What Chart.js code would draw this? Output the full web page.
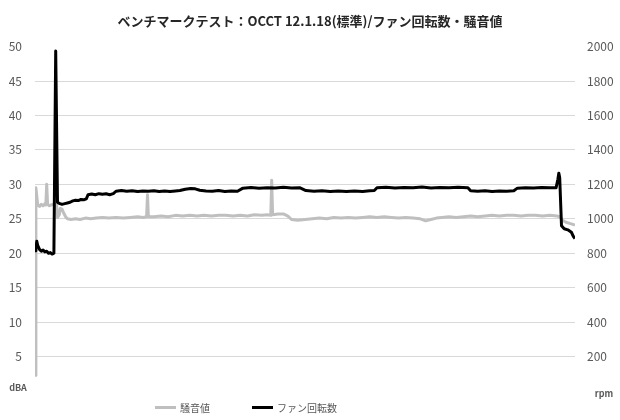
<!DOCTYPE html>
<html>
<head>
<meta charset="utf-8">
<script src="https://cdn.jsdelivr.net/npm/chart.js@4.4.0/dist/chart.umd.min.js"></script>
<style>
  html, body { margin: 0; padding: 0; background: #fff; }
  #wrap { position: relative; width: 620px; height: 420px; }
  #legend {
    position: absolute; left: 155px; top: 400px;
    display: flex; align-items: center;
    font-family: 'Noto Sans CJK JP', 'Noto Sans', sans-serif;
    font-size: 10px; color: #595959;
  }
  #legend .item { display: flex; align-items: center; margin-right: 42px; }
  #legend .swatch { width: 21px; height: 3px; margin-right: 4px; }
</style>
</head>
<body>
<div id="wrap">
  <canvas id="benchChart" width="620" height="420"></canvas>
  <div id="legend"></div>
</div>
<script>
// elapsed time (s) and fan speed (rpm)
const fanTime = [0, 1, 2, 3, 5, 7, 9, 11, 13, 15, 17, 19, 21, 23, 25, 27, 30, 33, 36, 39, 42, 45, 48, 51, 54, 57, 59, 63, 67, 71, 75, 79, 83, 87, 90, 96, 102, 108, 114, 120, 126, 132, 138, 144, 150, 156, 161, 167, 173, 178, 183, 190, 197, 204, 211, 218, 225, 231, 240, 249, 258, 267, 276, 285, 294, 301, 310, 319, 328, 337, 346, 355, 364, 372, 377, 380, 390, 400, 410, 420, 430, 440, 450, 460, 470, 481, 484, 492, 500, 508, 516, 524, 532, 536, 545, 554, 563, 572, 579, 581, 582, 583, 585, 588, 592, 596, 598, 600];
const fanRpm = [815, 825, 870, 845, 822, 812, 818, 808, 812, 800, 804, 795, 800, 1975, 1095, 1090, 1084, 1088, 1092, 1096, 1104, 1108, 1106, 1112, 1110, 1116, 1140, 1144, 1140, 1146, 1142, 1145, 1140, 1146, 1160, 1164, 1160, 1163, 1158, 1162, 1160, 1163, 1158, 1161, 1158, 1162, 1164, 1172, 1176, 1174, 1166, 1162, 1160, 1164, 1158, 1162, 1160, 1178, 1182, 1178, 1181, 1179, 1183, 1179, 1181, 1164, 1160, 1163, 1159, 1162, 1158, 1161, 1159, 1163, 1164, 1180, 1183, 1179, 1182, 1180, 1184, 1179, 1182, 1180, 1183, 1180, 1163, 1160, 1163, 1159, 1161, 1160, 1163, 1178, 1181, 1179, 1182, 1180, 1181, 1230, 1265, 1240, 960, 942, 936, 922, 900, 885];

// elapsed time (s) and noise level (dBA)
const noiseTime = [0, 1, 3, 5, 7, 9, 11, 12, 13, 14, 16, 18, 20, 22, 24, 25, 27, 28, 30, 32, 34, 36, 40, 45, 50, 56, 62, 68, 75, 82, 90, 98, 106, 114, 120, 124, 125, 126, 132, 140, 148, 156, 164, 172, 180, 188, 196, 204, 212, 220, 228, 236, 244, 252, 258, 262, 263, 264, 270, 276, 281, 285, 292, 300, 308, 316, 324, 332, 340, 348, 356, 364, 372, 380, 388, 396, 404, 412, 420, 428, 434, 440, 446, 452, 460, 468, 476, 484, 492, 500, 508, 516, 524, 532, 540, 548, 556, 564, 572, 580, 583, 586, 590, 595, 600];
const noiseDb = [2.3, 29.5, 27.0, 26.8, 27.1, 26.9, 27.2, 27.0, 30.0, 27.1, 26.9, 27.0, 27.1, 27.0, 27.0, 25.2, 25.6, 26.5, 26.4, 25.8, 25.3, 25.0, 24.9, 25.0, 24.9, 25.1, 25.0, 25.1, 25.2, 25.1, 25.2, 25.1, 25.2, 25.3, 25.2, 25.3, 28.5, 25.3, 25.3, 25.4, 25.3, 25.5, 25.4, 25.5, 25.4, 25.5, 25.4, 25.5, 25.5, 25.4, 25.5, 25.4, 25.6, 25.5, 25.6, 25.5, 30.6, 25.6, 25.7, 25.7, 25.4, 24.9, 24.8, 24.9, 25.0, 25.1, 25.0, 25.2, 25.1, 25.2, 25.1, 25.2, 25.3, 25.2, 25.3, 25.2, 25.1, 25.2, 25.1, 25.0, 24.7, 24.9, 25.1, 25.2, 25.3, 25.2, 25.3, 25.4, 25.3, 25.4, 25.5, 25.4, 25.5, 25.5, 25.4, 25.5, 25.5, 25.4, 25.5, 25.4, 25.3, 24.8, 24.5, 24.3, 24.1];

const seriesNames = ['騒音値', 'ファン回転数'];
const seriesColors = ['#bfbfbf', '#000000'];
const axisUnits = ['dBA', 'rpm'];
const titleText = 'ベンチマークテスト：OCCT 12.1.18(標準)/ファン回転数・騒音値';

const fontFamily = "'Noto Sans CJK JP', 'Noto Sans', sans-serif";
const labelColor = '#595959';

const toPoints = (xs, ys) => xs.map((x, i) => ({ x: x, y: ys[i] }));

// unit names sit where the 0 tick would be
const unitLabels = {
  id: 'unitLabels',
  afterDraw(chart) {
    const c = chart.ctx;
    const left = chart.scales.yDb, right = chart.scales.yRpm;
    c.save();
    c.font = 'bold 9px ' + fontFamily;
    c.fillStyle = labelColor;
    c.textBaseline = 'middle';
    c.textAlign = 'center';
    c.fillText(axisUnits[0], left.left + 18, left.getPixelForValue(0) - 3);
    c.fillText(axisUnits[1], right.left + 29, right.getPixelForValue(0) + 3);
    c.restore();
  }
};

const ctx = document.getElementById('benchChart').getContext('2d');
const benchChart = new Chart(ctx, {
  type: 'line',
  data: {
    datasets: [
      {
        label: seriesNames[1],
        data: toPoints(fanTime, fanRpm),
        yAxisID: 'yRpm',
        borderColor: seriesColors[1],
        borderWidth: 3
      },
      {
        label: seriesNames[0],
        data: toPoints(noiseTime, noiseDb),
        yAxisID: 'yDb',
        borderColor: seriesColors[0],
        borderWidth: 3
      }
    ]
  },
  options: {
    responsive: false,
    animation: false,
    layout: { padding: { left: 0, right: 0, top: 0, bottom: 29 } },
    elements: {
      point: { radius: 0 },
      line: { tension: 0, borderJoinStyle: 'round' }
    },
    plugins: {
      title: {
        display: true,
        text: titleText,
        color: '#262626',
        font: { family: fontFamily, size: 13, weight: 'bold' },
        padding: { top: 13, bottom: 18 }
      },
      legend: { display: false },
      tooltip: { enabled: false }
    },
    scales: {
      x: {
        type: 'linear',
        min: 0,
        max: 600,
        display: false
      },
      yDb: {
        position: 'left',
        min: 0,
        max: 50,
        afterFit: s => { s.width = 35; },
        border: { display: false },
        grid: {
          drawTicks: false,
          color: c => (c.tick.value === 0 || c.tick.value === 50) ? 'rgba(0,0,0,0)' : '#d9d9d9'
        },
        ticks: {
          stepSize: 5,
          padding: 13,
          color: labelColor,
          font: { family: fontFamily, size: 12 },
          callback: v => v === 0 ? '' : v
        }
      },
      yRpm: {
        position: 'right',
        min: 0,
        max: 2000,
        afterFit: s => { s.width = 45; },
        border: { display: false },
        grid: { display: false, drawTicks: false, tickLength: 0 },
        ticks: {
          stepSize: 200,
          padding: 12,
          color: labelColor,
          font: { family: fontFamily, size: 12 },
          callback: v => v === 0 ? '' : v
        }
      }
    }
  },
  plugins: [unitLabels]
});

// legend below the plot, same order as the reference
const legendEl = document.getElementById('legend');
seriesNames.forEach((name, i) => {
  const item = document.createElement('div');
  item.className = 'item';
  const sw = document.createElement('span');
  sw.className = 'swatch';
  sw.style.background = seriesColors[i];
  const txt = document.createElement('span');
  txt.textContent = name;
  item.appendChild(sw);
  item.appendChild(txt);
  legendEl.appendChild(item);
});
</script>
</body>
</html>
